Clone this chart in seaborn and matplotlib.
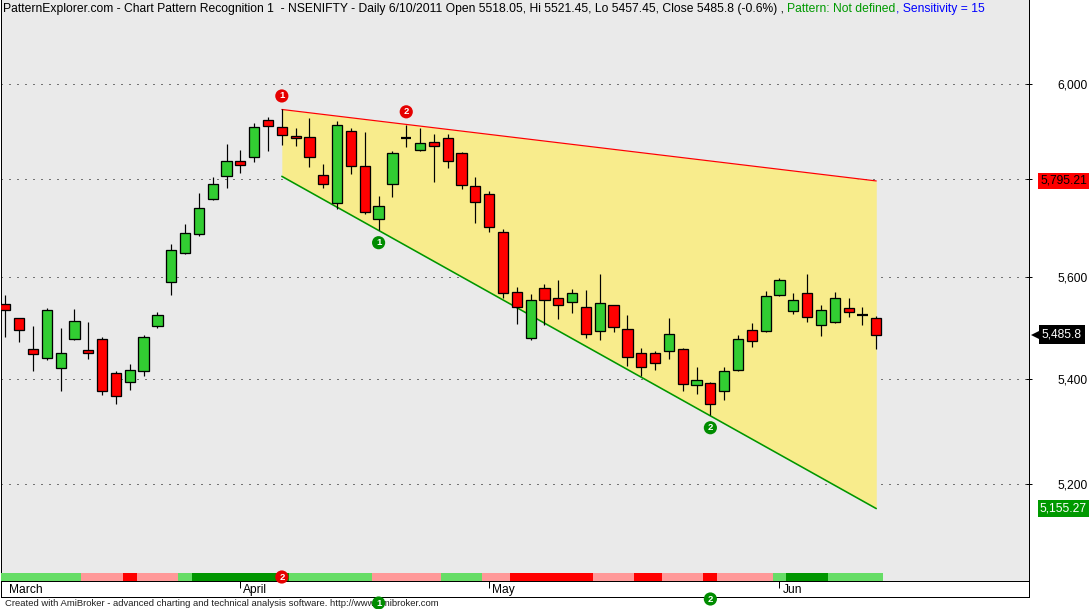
import numpy as np
import matplotlib
matplotlib.use("Agg")
import matplotlib.pyplot as plt
import matplotlib.transforms as mtransforms
from matplotlib.colors import ListedColormap
from matplotlib.ticker import FixedLocator, FixedFormatter, NullLocator
import seaborn as sns

# ---------------- data ----------------
opens = [5545.3, 5517.4, 5458.5, 5439.3, 5421.2, 5477.0, 5456.6, 5477.8, 5410.4, 5393.1,
         5414.3, 5503.4, 5590.4, 5647.0, 5686.9, 5757.2, 5804.8, 5835.8, 5844.1, 5923.7,
         5908.7, 5889.6, 5887.5, 5806.9, 5749.0, 5900.1, 5825.5, 5717.9, 5788.3, 5884.6,
         5859.8, 5877.2, 5885.5, 5852.4, 5784.1, 5767.6, 5691.5, 5569.2, 5479.7, 5577.2,
         5557.3, 5549.3, 5539.3, 5493.4, 5543.3, 5497.4, 5450.8, 5450.8, 5452.8, 5458.5,
         5387.3, 5391.2, 5375.8, 5416.2, 5495.4, 5493.4, 5563.3, 5531.3, 5567.2, 5505.4,
         5511.4, 5537.3, 5524.6, 5518.05]
highs = [5563.9, 5519.0, 5502.0, 5537.9, 5498.0, 5535.9, 5510.0, 5481.6, 5414.8, 5428.3,
         5484.1, 5530.0, 5667.0, 5707.6, 5770.3, 5803.4, 5871.6, 5859.2, 5917.3, 5928.6,
         5945.1, 5905.1, 5926.5, 5830.2, 5921.6, 5906.6, 5896.4, 5763.4, 5856.5, 5911.5,
         5905.1, 5892.3, 5892.3, 5855.1, 5802.7, 5774.4, 5696.0, 5579.8, 5565.9, 5585.8,
         5593.8, 5575.8, 5573.8, 5605.8, 5545.0, 5523.4, 5460.5, 5453.3, 5517.4, 5460.0,
         5422.5, 5393.0, 5422.0, 5485.5, 5509.4, 5571.2, 5597.2, 5567.2, 5605.2, 5543.3,
         5569.2, 5557.3, 5539.3, 5521.45]
lows = [5480.9, 5471.3, 5415.4, 5436.6, 5376.9, 5475.0, 5437.9, 5369.2, 5351.9, 5378.9,
        5405.8, 5498.6, 5564.5, 5645.0, 5682.0, 5755.0, 5781.2, 5812.2, 5835.0, 5857.7,
        5870.2, 5868.1, 5824.7, 5781.2, 5737.8, 5810.2, 5726.2, 5695.2, 5762.6, 5866.0,
        5858.0, 5793.6, 5822.0, 5779.2, 5708.8, 5690.2, 5557.3, 5507.4, 5475.9, 5505.4,
        5516.6, 5528.5, 5478.9, 5475.1, 5491.4, 5425.1, 5404.6, 5416.2, 5437.4, 5376.9,
        5371.2, 5331.0, 5359.6, 5414.0, 5461.6, 5491.0, 5561.0, 5525.4, 5510.6, 5483.6,
        5509.0, 5519.4, 5505.4, 5457.45]
closes = [5533.3, 5495.4, 5447.0, 5533.3, 5450.8, 5513.4, 5448.9, 5375.8, 5367.3, 5416.2,
          5481.6, 5523.4, 5655.0, 5689.0, 5738.6, 5788.3, 5835.8, 5827.5, 5908.7, 5910.9,
          5891.6, 5885.5, 5844.1, 5788.3, 5913.0, 5825.5, 5730.4, 5742.8, 5852.4, 5884.6,
          5875.1, 5868.9, 5835.8, 5786.2, 5751.0, 5701.4, 5567.2, 5539.3, 5553.3, 5553.3,
          5543.3, 5567.2, 5487.4, 5547.3, 5501.4, 5441.2, 5422.0, 5429.7, 5487.4, 5389.2,
          5396.9, 5350.7, 5414.3, 5477.8, 5473.9, 5561.3, 5593.2, 5553.3, 5519.4, 5533.3,
          5557.3, 5529.3, 5524.6, 5485.8]

pattern_x = [20, 63]
upper_line = [5945.1, 5795.21]
lower_line = [5804.8, 5155.27]
upper_pivots = [20, 29]
lower_pivots = [27, 51]

ytick_values = [5200, 5400, 5600, 5800, 6000]
ytick_labels = ["5,200", "5,400", "5,600", "", "6,000"]
month_ticks = [17, 35, 56]
month_labels = ["April", "May", "Jun"]
first_month = "March"
strip_states = list("gggggg" "ppp" "r" "ppp" "g" "GGGGGGG" "gggggg" "ppppp" "ggg"
                    "pp" "rrrrrr" "ppp" "rr" "ppp" "r" "pppp" "g" "GGG" "gggg")

title_parts = [
    ("PatternExplorer.com - Chart Pattern Recognition 1  - NSENIFTY - Daily 6/10/2011 "
     "Open 5518.05, Hi 5521.45, Lo 5457.45, Close 5485.8 (-0.6%) , ", "black"),
    ("Pattern: Not defined", "#009900"),
    (", Sensitivity = 15", "#0000FF"),
]
footer = "Created with AmiBroker - advanced charting and technical analysis software. http://www.amibroker.com"

# ---------------- style ----------------
sns.set_theme(style="white")
plt.rcParams["font.family"] = ["Liberation Sans", "DejaVu Sans"]
W, H = 1090, 609
PX = 72.0 / 100.0  # points per pixel


def rect(x0, y0, x1, y1):
    return [x0 / W, 1 - y1 / H, (x1 - x0) / W, (y1 - y0) / H]


GREEN_BODY = "#32CD32"
RED_BODY = "#FF0000"
BG = "#EAEAEA"
YELLOW = "#F8EC8C"
MARK_RED = "#E60000"
MARK_GREEN = "#008C00"

fig = plt.figure(figsize=(W / 100, H / 100), dpi=100)
fig.patch.set_facecolor("white")

ax = fig.add_axes(rect(0.5, 0, 1029.3, 581.3))
ax.set_zorder(0)
ax.set_facecolor(BG)
ax.set_yscale("log")
xmin, xmax = -0.35, 74.07
ax.set_xlim(xmin, xmax)
ax.set_ylim(5023.1, 6182.1)

o = np.array(opens); h = np.array(highs); l = np.array(lows); c = np.array(closes)
x = np.arange(len(o))
up = c > o
dn = c < o
dj = c == o
bw = 0.74

# pattern area
ax.fill_between(pattern_x, lower_line, upper_line, color=YELLOW, lw=0, zorder=1)
sns.lineplot(x=pattern_x, y=upper_line, color="#FF0000", lw=1.2 * PX, ax=ax,
             estimator=None, zorder=2)
sns.lineplot(x=pattern_x, y=lower_line, color="#009600", lw=1.6 * PX, ax=ax,
             estimator=None, zorder=2)

# candles
ax.vlines(x, l, h, color="black", lw=1.2 * PX, zorder=3)
ax.bar(x[up], (c - o)[up], bottom=o[up], width=bw, color=GREEN_BODY,
       edgecolor="black", linewidth=1.3 * PX, zorder=4)
ax.bar(x[dn], (c - o)[dn], bottom=o[dn], width=bw, color=RED_BODY,
       edgecolor="black", linewidth=1.3 * PX, zorder=4)
ax.hlines(o[dj], x[dj] - bw / 2, x[dj] + bw / 2, color="black", lw=2.2 * PX, zorder=4)


def pivot_badge(axis, label, xy, offset_px, color, coords="data"):
    axis.annotate(label, xy=xy, xycoords=coords, xytext=(0, offset_px * PX),
                  textcoords="offset points", ha="center", va="center", color="white",
                  fontsize=9.5 * PX, fontweight="bold", annotation_clip=False,
                  bbox=dict(boxstyle="circle,pad=0.22", fc=color, ec="none"), zorder=8)


# pivot markers
for i, k in enumerate(upper_pivots):
    pivot_badge(ax, str(i + 1), (k, h[k]), 13.5, MARK_RED)
for i, k in enumerate(lower_pivots):
    pivot_badge(ax, str(i + 1), (k, l[k]), -13, MARK_GREEN)

# grid / ticks
ax.set_axisbelow(True)
ax.yaxis.set_major_locator(FixedLocator(ytick_values))
ax.yaxis.set_major_formatter(FixedFormatter(ytick_labels))
ax.yaxis.set_minor_locator(NullLocator())
ax.yaxis.grid(True, color="black", linestyle=(0, (1, 7)), lw=1 * PX)
ax.xaxis.grid(False)
ax.yaxis.set_ticks_position("right")
ax.tick_params(axis="y", which="major", direction="inout", length=6 * PX, width=1 * PX,
               color="black", pad=(1088 - 1029.3 - 3) * PX, labelsize=12 * PX,
               labelcolor="black")
for lab in ax.get_yticklabels():
    lab.set_horizontalalignment("right")
ax.set_xticks([])
for s in ["left", "right", "bottom"]:
    ax.spines[s].set_color("black")
    ax.spines[s].set_linewidth(1 * PX)
    ax.spines[s].set_visible(True)
ax.spines["top"].set_visible(False)

# value labels on right
yblend = mtransforms.blended_transform_factory(fig.transFigure, ax.transData)
ax.text(1087 / W, upper_line[-1], f"{upper_line[-1]:,.2f}", transform=yblend, ha="right",
        va="center", fontsize=12 * PX, color="black", clip_on=False, zorder=7,
        bbox=dict(boxstyle="square,pad=0.18", fc="#FF0000", ec="none"))
ax.text(1087 / W, lower_line[-1], f"{lower_line[-1]:,.2f}", transform=yblend, ha="right",
        va="center", fontsize=12 * PX, color="white", clip_on=False, zorder=7,
        bbox=dict(boxstyle="square,pad=0.18", fc="#009900", ec="none"))
ax.text(1082 / W, c[-1], f"{c[-1]:,.1f}", transform=yblend, ha="right",
        va="center", fontsize=12 * PX, color="white", clip_on=False, zorder=7,
        bbox=dict(boxstyle="square,pad=0.28", fc="black", ec="none"))
ax.plot([1038 / W], [c[-1]], marker="<", markersize=14 * PX, color="black",
        transform=yblend, clip_on=False, zorder=6.5, mew=0)

# signal strip
code_map = {"g": 0, "G": 1, "p": 2, "r": 3}
strip_colors = ["#66DD66", "#009600", "#FF9999", "#FF0000"]
strip = fig.add_axes(rect(0.5, 572.5, 1029.3, 580.8))
strip.set_zorder(1)
sns.heatmap(np.array([[code_map[s] for s in strip_states]]),
            cmap=ListedColormap(strip_colors), vmin=-0.5, vmax=3.5, cbar=False,
            ax=strip, xticklabels=False, yticklabels=False)
strip.set_xlim(xmin + 0.5, xmax + 0.5)
strip.set_facecolor("none")
strip.axis("off")

# date band
band = fig.add_axes(rect(0.5, 581.3, 1029.3, 597.3))
band.set_zorder(1)
band.set_facecolor("white")
band.set_xlim(xmin, xmax)
band.set_ylim(0, 1)
band.set_yticks([])
band.xaxis.set_ticks_position("top")
band.set_xticks(month_ticks)
band.tick_params(axis="x", direction="in", length=7 * PX, width=1 * PX, color="black",
                 labeltop=False, labelbottom=False)
for s in band.spines.values():
    s.set_color("black")
    s.set_linewidth(1 * PX)
mblend = mtransforms.blended_transform_factory(band.transData, band.transAxes)
off = mtransforms.ScaledTranslation(3 / 100, 0, fig.dpi_scale_trans)
for pos, lab in zip(month_ticks, month_labels):
    band.text(pos, 0.45, lab, transform=mblend + off, ha="left", va="center",
              fontsize=12 * PX, color="black")
band.text(8 / 1028.8, 0.45, first_month, transform=band.transAxes, ha="left", va="center",
          fontsize=12 * PX, color="black")

# footer
fig.text(5 / W, 1 - 603 / H, footer, ha="left", va="center", fontsize=9.5 * PX,
         color="#202020")

# transparent overlay on top: stray copies of pivot badges AmiBroker draws near the bottom
over = fig.add_axes([0, 0, 1, 1], facecolor="none")
over.set_axis_off()
over.set_zorder(5)
bottom_blend = mtransforms.blended_transform_factory(ax.transData, fig.transFigure)
pivot_badge(over, "2", (upper_pivots[0], 1 - 577 / H), 0, MARK_RED, coords=bottom_blend)
pivot_badge(over, "1", (lower_pivots[0], 1 - 603 / H), 0, MARK_GREEN, coords=bottom_blend)
pivot_badge(over, "2", (lower_pivots[1], 1 - 599 / H), 0, MARK_GREEN, coords=bottom_blend)

# title
t = fig.text(3 / W, 1 - 3 / H, title_parts[0][0], ha="left", va="top",
             fontsize=12.1 * PX, color=title_parts[0][1])
for txt, col in title_parts[1:]:
    t = over.annotate(txt, xy=(1, 0), xycoords=t, ha="left", va="bottom",
                      fontsize=12.1 * PX, color=col, annotation_clip=False)

fig.savefig("out.png", dpi=100, facecolor="white")
